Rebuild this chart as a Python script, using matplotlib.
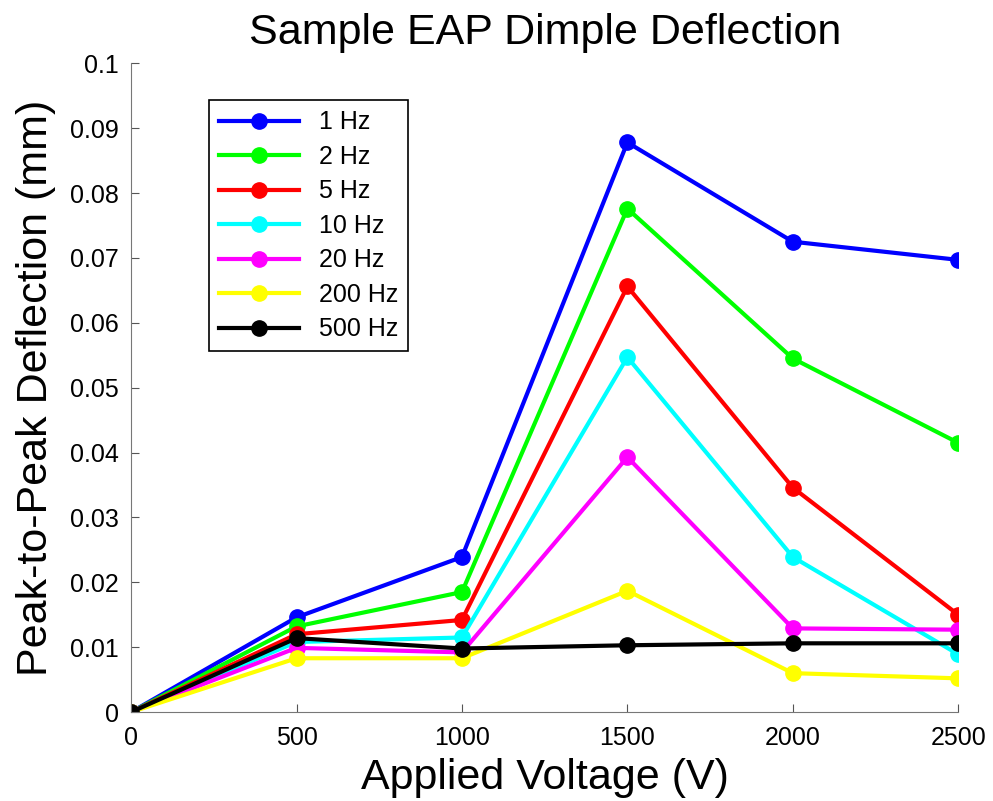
import matplotlib

matplotlib.use("Agg")
import matplotlib.pyplot as plt

plt.rcParams["font.family"] = ["Liberation Sans", "DejaVu Sans"]

voltage = [0, 500, 1000, 1500, 2000, 2500]
labels = ["1 Hz", "2 Hz", "5 Hz", "10 Hz", "20 Hz", "200 Hz", "500 Hz"]
colors = ["#0000ff", "#00ff00", "#ff0000", "#00ffff", "#ff00ff", "#ffff00", "#000000"]

hz1 = [0, 0.0146, 0.0239, 0.0878, 0.0725, 0.0697]
hz2 = [0, 0.0132, 0.0185, 0.0776, 0.0545, 0.0415]
hz5 = [0, 0.0120, 0.0142, 0.0656, 0.0346, 0.0150]
hz10 = [0, 0.0108, 0.0115, 0.0547, 0.0239, 0.0089]
hz20 = [0, 0.0099, 0.0092, 0.0393, 0.0129, 0.0127]
hz200 = [0, 0.0083, 0.0083, 0.0187, 0.0060, 0.0052]
hz500 = [0, 0.0114, 0.0098, 0.0103, 0.0106, 0.0106]
series = [hz1, hz2, hz5, hz10, hz20, hz200, hz500]

fig = plt.figure(figsize=(9.93, 8.01), dpi=100)
ax = fig.add_axes([0.132, 0.111, 0.833, 0.810])

for vals, lab, col in zip(series, labels, colors):
    ax.plot(voltage, vals, color=col, lw=3, marker="o", ms=11, label=lab)

ax.set_xlim(0, 2500)
ax.set_ylim(0, 0.1)
ax.set_xticks(voltage)
ax.set_yticks([i / 100 for i in range(11)])
ax.set_yticklabels(["0", "0.01", "0.02", "0.03", "0.04", "0.05", "0.06",
                    "0.07", "0.08", "0.09", "0.1"])
ax.tick_params(direction="in", labelsize=18, length=6, color="#555555")
ax.tick_params(axis="y", pad=9)
ax.tick_params(axis="x", pad=10)
for s in ("top", "right"):
    ax.spines[s].set_visible(False)
for s in ("left", "bottom"):
    ax.spines[s].set_color("#777777")
ax.set_xlabel("Applied Voltage (V)", fontsize=31, labelpad=6)
ax.set_ylabel("Peak-to-Peak Deflection (mm)", fontsize=31, labelpad=10)
ax.set_title("Sample EAP Dimple Deflection", fontsize=31, pad=14)

leg = ax.legend(loc="upper left", bbox_to_anchor=(0.094, 0.943), borderaxespad=0,
                fontsize=18, handlelength=3.2, labelspacing=0.42, fancybox=False,
                framealpha=1, edgecolor="black")
leg.get_frame().set_linewidth(1.2)

fig.savefig("out.png", dpi=100, facecolor="white")
